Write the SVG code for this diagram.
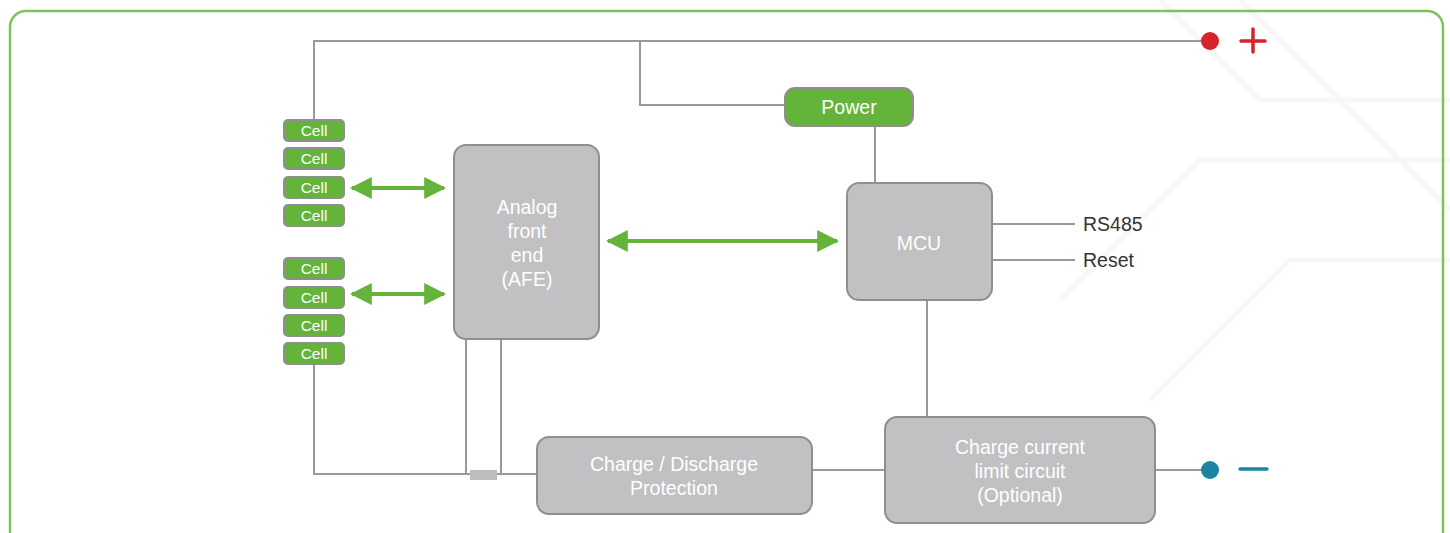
<svg xmlns="http://www.w3.org/2000/svg" width="1450" height="533" viewBox="0 0 1450 533">
<style>
.wire{fill:none;stroke:#999999;stroke-width:2}
.box{fill:#c1c1c3;stroke:#8f8f8f;stroke-width:2}
.gbox{fill:#64b33b;stroke:#8f8f8f;stroke-width:2}
.bt{font-family:"Liberation Sans",Arial,sans-serif;font-size:19.5px;fill:#ffffff;text-anchor:middle}
.ct{font-family:"Liberation Sans",Arial,sans-serif;font-size:15.5px;fill:#ffffff;text-anchor:middle}
.lt{font-family:"Liberation Sans",Arial,sans-serif;font-size:19.5px;fill:#333333}
.arr{fill:none;stroke:#64b33b;stroke-width:4;marker-start:url(#ah);marker-end:url(#ah)}
.bg{fill:none;stroke:#f7f7f7;stroke-width:5}
</style>
<defs>
<marker id="ah" viewBox="0 0 10 10" refX="9" refY="5" markerWidth="5.5" markerHeight="5.5" orient="auto-start-reverse" markerUnits="strokeWidth">
<path d="M0,0 L10,5 L0,10 z" fill="#64b33b"/>
</marker>
</defs>
<rect width="1450" height="533" fill="#ffffff"/>
<g id="background">
<path class="bg" d="M1160,0 L1260,100 L1450,100"/>
<path class="bg" d="M1240,0 L1450,210"/>
<path class="bg" d="M1060,300 L1200,160 L1450,160"/>
<path class="bg" d="M1150,400 L1290,260 L1450,260"/>
</g>
<rect id="frame" x="10" y="11" width="1433" height="540" rx="16" fill="none" stroke="#7cc35b" stroke-width="2.5"/>
<g id="connectors">
<path class="wire" d="M314,120 V41 H1210"/>
<path class="wire" d="M640,41 V105 H785"/>
<path class="wire" d="M875,126 V183"/>
<path class="wire" d="M992,224 H1075"/>
<path class="wire" d="M992,260 H1075"/>
<path class="wire" d="M927,300 V417"/>
<path class="wire" d="M812,470 H885"/>
<path class="wire" d="M1155,470 H1210"/>
<path class="wire" d="M314,364 V474 H537"/>
<path class="wire" d="M466,339 V474"/>
<path class="wire" d="M501,339 V474"/>
<rect x="470" y="470" width="27" height="10" fill="#bdbdbd"/>
<path class="arr" d="M352,188 H444"/>
<path class="arr" d="M352,294 H444"/>
<path class="arr" d="M608,241 H837"/>
</g>
<g id="plus-terminal">
<circle cx="1210" cy="41" r="9" fill="#d7232b"/>
<path d="M1241,41 H1265 M1253,29 V52" stroke="#d7232b" stroke-width="3.5" stroke-linecap="round"/>
</g>
<g id="minus-terminal">
<circle cx="1210" cy="470" r="9" fill="#1a86a2"/>
<path d="M1240,469 H1267" stroke="#1a86a2" stroke-width="3.5" stroke-linecap="round"/>
</g>
<g id="power"><rect class="gbox" x="785" y="88" width="128" height="38" rx="10"/><text class="bt" x="849" y="114">Power</text></g>
<g id="mcu"><rect class="box" x="847" y="183" width="145" height="117" rx="12"/><text class="bt" x="919" y="250">MCU</text></g>
<g id="rs485"><text class="lt" x="1083" y="231">RS485</text></g>
<g id="reset"><text class="lt" x="1083" y="267">Reset</text></g>
<g id="afe"><rect class="box" x="454" y="145" width="145" height="194" rx="12"/>
<text class="bt" x="527" y="214">Analog</text><text class="bt" x="527" y="238">front</text><text class="bt" x="527" y="262">end</text><text class="bt" x="527" y="286">(AFE)</text></g>
<g id="cdp"><rect class="box" x="537" y="437" width="275" height="77" rx="12"/>
<text class="bt" x="674" y="471">Charge / Discharge</text><text class="bt" x="674" y="495">Protection</text></g>
<g id="cclc"><rect class="box" x="885" y="417" width="270" height="106" rx="12"/>
<text class="bt" x="1020" y="454">Charge current</text><text class="bt" x="1020" y="478">limit circuit</text><text class="bt" x="1020" y="502">(Optional)</text></g>
<g id="cell1"><rect class="gbox" x="284" y="120" width="60" height="21" rx="4"/><text class="ct" x="314" y="136">Cell</text></g>
<g id="cell2"><rect class="gbox" x="284" y="148" width="60" height="21" rx="4"/><text class="ct" x="314" y="164">Cell</text></g>
<g id="cell3"><rect class="gbox" x="284" y="177" width="60" height="21" rx="4"/><text class="ct" x="314" y="193">Cell</text></g>
<g id="cell4"><rect class="gbox" x="284" y="205" width="60" height="21" rx="4"/><text class="ct" x="314" y="221">Cell</text></g>
<g id="cell5"><rect class="gbox" x="284" y="258" width="60" height="21" rx="4"/><text class="ct" x="314" y="274">Cell</text></g>
<g id="cell6"><rect class="gbox" x="284" y="287" width="60" height="21" rx="4"/><text class="ct" x="314" y="303">Cell</text></g>
<g id="cell7"><rect class="gbox" x="284" y="315" width="60" height="21" rx="4"/><text class="ct" x="314" y="331">Cell</text></g>
<g id="cell8"><rect class="gbox" x="284" y="343" width="60" height="21" rx="4"/><text class="ct" x="314" y="359">Cell</text></g>
</svg>
